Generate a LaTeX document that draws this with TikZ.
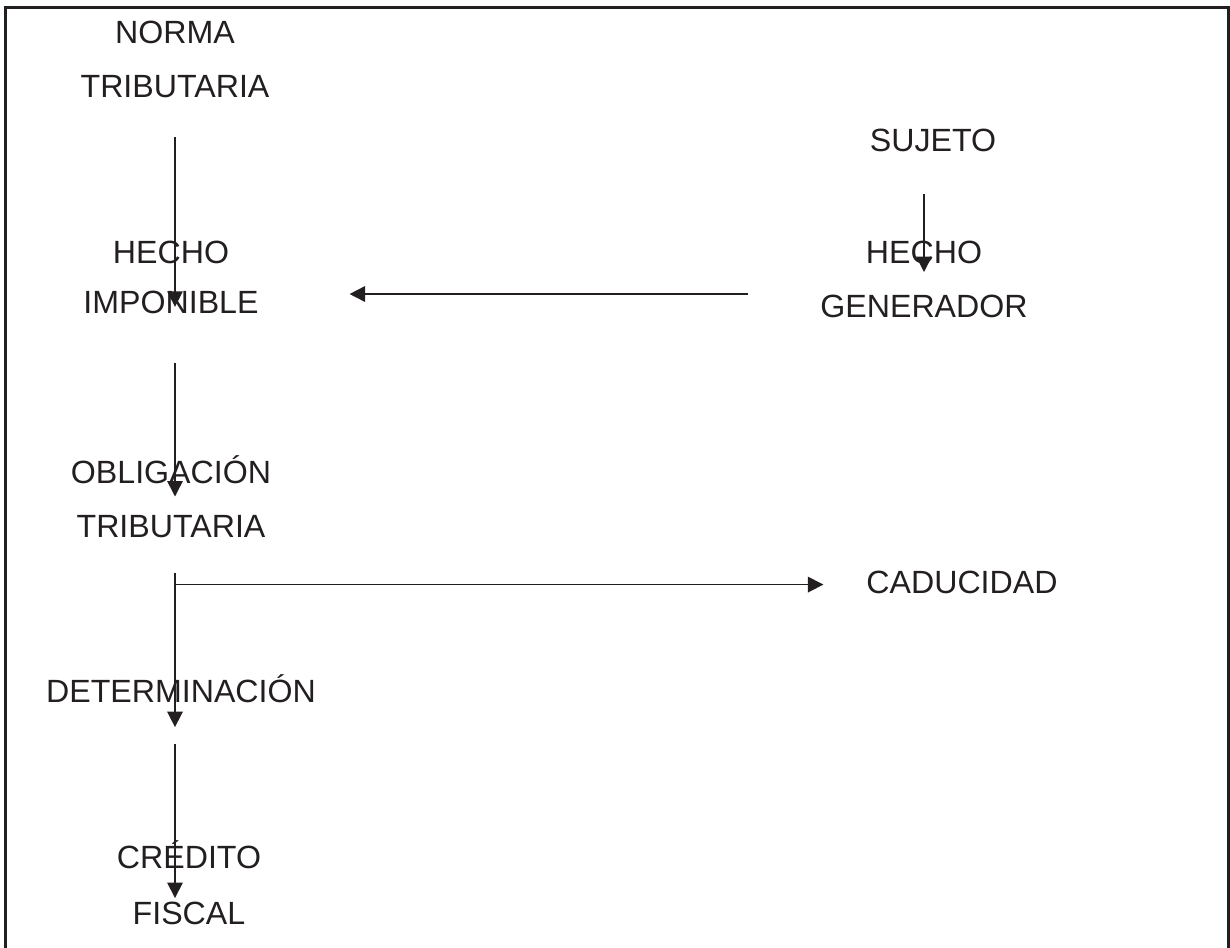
\documentclass[tikz,border=0pt]{standalone}
\usepackage{fontspec}
\setmainfont{Liberation Sans}
\usepackage{tikz}
\usetikzlibrary{shapes, arrows, arrows.meta, calc}
\definecolor{ink}{HTML}{231F20}
\tikzstyle{concept} = [inner sep=0pt, outer sep=0pt, align=center, text=ink,
    font=\fontsize{18.3}{30.7}\selectfont]
\tikzstyle{line} = [draw, ink, line width=0.9pt, -{Triangle[length=0.31cm, width=0.31cm]}]
\tikzstyle{frame} = [draw, ink, line width=0.055cm]

\begin{document}
\begin{tikzpicture}[x=0.02cm, y=-0.02cm]
    \useasboundingbox (0,0) rectangle (1230,947);
    \draw [frame] (5.5,960) -- (5.5,7.5) -- (1228.8,7.5) -- (1228.8,960);
    % Nodes
    \node [concept] (norma) at (175,59) {NORMA\\TRIBUTARIA};
    \node [concept] (imponible) at (171,277.5) {HECHO\\[-2.3pt]IMPONIBLE};
    \node [concept] (sujeto) at (933,140) {SUJETO};
    \node [concept] (generador) at (924,279) {HECHO\\GENERADOR};
    \node [concept] (obligacion) at (171,496.5) {OBLIGACIÓN\\TRIBUTARIA};
    \node [concept] (caducidad) at (962,582) {CADUCIDAD};
    \node [concept] (determinacion) at (181,689) {DETERMINACIÓN};
    \node [concept] (credito) at (189,883) {CRÉDITO\\[1.1pt]FISCAL};
    % Edges
    \path [line] ($(norma.south)+(0,40)$) -- ($(imponible.south -| norma.south)+(0,-7)$);
    \path [line] ($(generador.west)+(-72,15)$) -- ($(imponible.east |- generador.west)+(91,15)$);
    \path [line] ($(sujeto.south -| generador)+(0,43)$) -- ($(generador)+(0,-7)$);
    \path [line] ($(imponible.south -| norma.south)+(0,49)$) -- (obligacion -| norma.south);
    \path [line] ($(obligacion.south -| norma.south)+(0,35)$) -- ($(determinacion.south -| norma.south)+(0,24)$);
    \path [line] ($(obligacion.south -| norma.south)+(0,47)$) -- ($(obligacion.south -| caducidad.west)+(-43,47)$);
    \path [line] ($(determinacion.south -| norma.south)+(0,41)$) -- ($(credito.south -| norma.south)+(0,-27)$);
\end{tikzpicture}
\end{document}
